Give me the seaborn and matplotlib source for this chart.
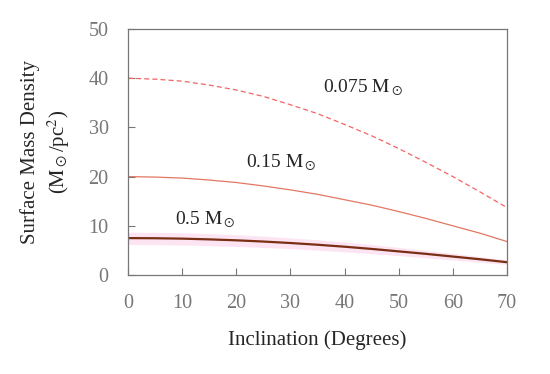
import numpy as np
import pandas as pd
import seaborn as sns
import matplotlib
matplotlib.use('Agg')
import matplotlib.pyplot as plt

# inclination (degrees)
inclination = [0, 5, 10, 15, 20, 25, 30, 35, 40, 45, 50, 55, 60, 65, 70]
# surface mass density (Msun/pc^2)
sigma_0075 = [40.0, 39.8, 39.4, 38.6, 37.6, 36.3, 34.6, 32.8, 30.6, 28.3, 25.7, 22.9, 20.0, 16.9, 13.7]
sigma_015 = [20.0, 19.9, 19.7, 19.3, 18.8, 18.1, 17.3, 16.4, 15.3, 14.2, 12.9, 11.5, 10.0, 8.5, 6.8]
sigma_05 = [7.5, 7.47, 7.39, 7.24, 7.05, 6.8, 6.5, 6.15, 5.75, 5.3, 4.8, 4.3, 3.75, 3.2, 2.6]
band_05_lo = [6.2, 6.17, 6.1, 5.97, 5.8, 5.6, 5.35, 5.05, 4.7, 4.35, 3.95, 3.5, 3.05, 2.6, 2.15]
band_05_hi = [8.7, 8.67, 8.58, 8.4, 8.2, 7.9, 7.55, 7.15, 6.7, 6.2, 5.6, 5.0, 4.4, 3.75, 3.05]

df = pd.DataFrame({'inc': inclination, 's0075': sigma_0075, 's015': sigma_015, 's05': sigma_05})

sns.set_style('ticks')
plt.rcParams['font.family'] = ['Liberation Serif', 'DejaVu Serif']
plt.rcParams['mathtext.fontset'] = 'stix'

fig = plt.figure(figsize=(5.5, 3.74), dpi=100)
ax = fig.add_axes([0.2327, 0.2647, 0.6891, 0.6578])

ax.fill_between(inclination, band_05_lo, band_05_hi, color='#fde4f2', lw=0)
sns.lineplot(data=df, x='inc', y='s0075', ax=ax, color='#f26464', lw=0.9, linestyle=(0, (4, 2.5)))
sns.lineplot(data=df, x='inc', y='s015', ax=ax, color='#e27763', lw=0.9)
sns.lineplot(data=df, x='inc', y='s05', ax=ax, color='#7a2e14', lw=1.6)

ax.set_xlim(0, 70)
ax.set_ylim(0, 50)
ax.set_xticks(range(0, 71, 10))
ax.set_yticks(range(0, 51, 10))
ax.tick_params(axis='both', direction='in', length=5, width=0.8, color='#777777', labelcolor='#777777',
               labelsize=14.5, top=False, right=False)
ax.tick_params(axis='x', pad=14)
ax.tick_params(axis='y', pad=14)
for s in ax.spines.values():
    s.set_color('#777777')
    s.set_linewidth(0.9)
    s.set_visible(True)

ax.set_xlabel('Inclination (Degrees)', fontsize=15, labelpad=12)
ax.set_ylabel('Surface Mass Density\n($\\mathrm{M}_\\odot$/pc$^2$)', fontsize=15, labelpad=12, linespacing=1.3)

ax.text(36.1, 38, '0.075 $\\mathrm{M}_\\odot$', fontsize=14, va='center')
ax.text(21.8, 22.8, '0.15 $\\mathrm{M}_\\odot$', fontsize=14, va='center')
ax.text(8.7, 11.2, '0.5 $\\mathrm{M}_\\odot$', fontsize=14, va='center')

plt.savefig('out.png', dpi=100)
